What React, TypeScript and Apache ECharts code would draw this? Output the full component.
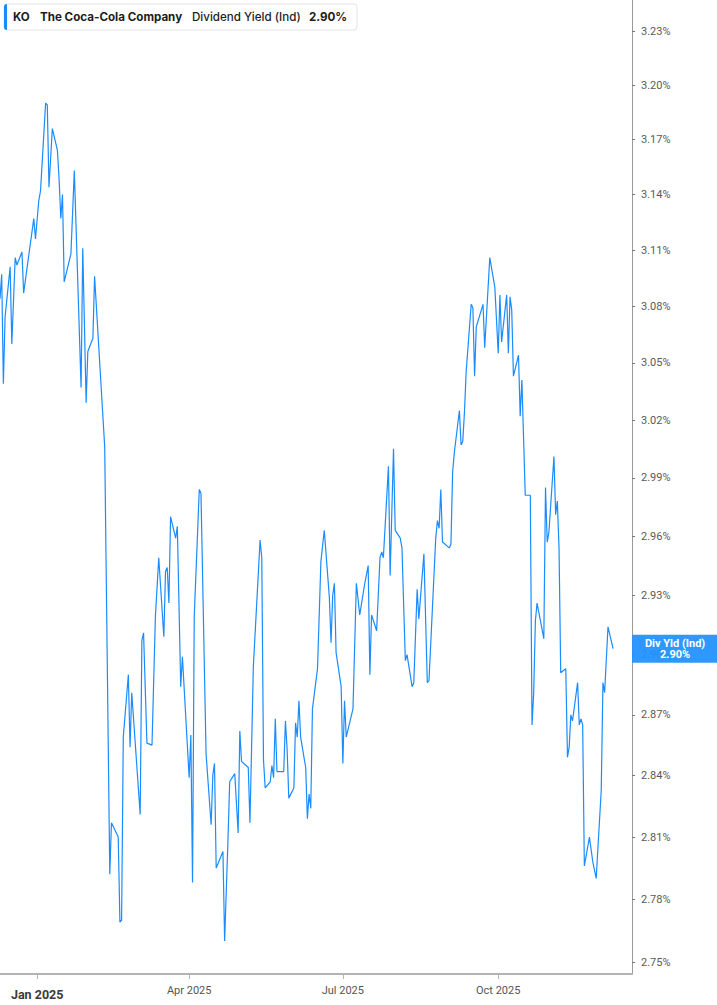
import React, { useEffect, useRef } from "react";
import * as echarts from "echarts";

// KO indicated dividend yield (%), daily closes
const dates = [
  "2024-12-10", "2024-12-11", "2024-12-12", "2024-12-13", "2024-12-16", "2024-12-17", "2024-12-19", "2024-12-20",
  "2024-12-23", "2024-12-24", "2024-12-30", "2024-12-31", "2025-01-02", "2025-01-03", "2025-01-06", "2025-01-07",
  "2025-01-08", "2025-01-10", "2025-01-13", "2025-01-14", "2025-01-15", "2025-01-16", "2025-01-17", "2025-01-21",
  "2025-01-23", "2025-01-27", "2025-01-28", "2025-01-30", "2025-01-31", "2025-02-03", "2025-02-04", "2025-02-10",
  "2025-02-13", "2025-02-14", "2025-02-18", "2025-02-19", "2025-02-20", "2025-02-21", "2025-02-24", "2025-02-25",
  "2025-02-26", "2025-03-03", "2025-03-04", "2025-03-05", "2025-03-07", "2025-03-10", "2025-03-12", "2025-03-14",
  "2025-03-17", "2025-03-18", "2025-03-19", "2025-03-20", "2025-03-21", "2025-03-24", "2025-03-25", "2025-03-27",
  "2025-03-28", "2025-04-01", "2025-04-02", "2025-04-03", "2025-04-04", "2025-04-07", "2025-04-08", "2025-04-11",
  "2025-04-14", "2025-04-15", "2025-04-16", "2025-04-17", "2025-04-21", "2025-04-22", "2025-04-24", "2025-04-25",
  "2025-04-28", "2025-04-30", "2025-05-01", "2025-05-02", "2025-05-06", "2025-05-07", "2025-05-09", "2025-05-13",
  "2025-05-14", "2025-05-15", "2025-05-16", "2025-05-19", "2025-05-20", "2025-05-21", "2025-05-22", "2025-05-23",
  "2025-05-27", "2025-05-28", "2025-05-29", "2025-05-30", "2025-06-02", "2025-06-03", "2025-06-04", "2025-06-05",
  "2025-06-06", "2025-06-09", "2025-06-10", "2025-06-11", "2025-06-12", "2025-06-13", "2025-06-16", "2025-06-18",
  "2025-06-20", "2025-06-23", "2025-06-24", "2025-06-25", "2025-06-26", "2025-06-27", "2025-06-30", "2025-07-01",
  "2025-07-02", "2025-07-03", "2025-07-07", "2025-07-09", "2025-07-11", "2025-07-14", "2025-07-16", "2025-07-17",
  "2025-07-18", "2025-07-21", "2025-07-23", "2025-07-24", "2025-07-25", "2025-07-28", "2025-07-29", "2025-07-31",
  "2025-08-01", "2025-08-04", "2025-08-05", "2025-08-07", "2025-08-08", "2025-08-11", "2025-08-12", "2025-08-14",
  "2025-08-15", "2025-08-18", "2025-08-20", "2025-08-21", "2025-08-25", "2025-08-26", "2025-08-27", "2025-08-28",
  "2025-08-29", "2025-09-02", "2025-09-03", "2025-09-04", "2025-09-05", "2025-09-08", "2025-09-09", "2025-09-10",
  "2025-09-11", "2025-09-12", "2025-09-15", "2025-09-16", "2025-09-17", "2025-09-18", "2025-09-19", "2025-09-22",
  "2025-09-23", "2025-09-26", "2025-09-29", "2025-10-01", "2025-10-02", "2025-10-03", "2025-10-06", "2025-10-07",
  "2025-10-08", "2025-10-09", "2025-10-10", "2025-10-13", "2025-10-14", "2025-10-15", "2025-10-17", "2025-10-20",
  "2025-10-21", "2025-10-22", "2025-10-23", "2025-10-24", "2025-10-28", "2025-10-29", "2025-10-30", "2025-10-31",
  "2025-11-03", "2025-11-04", "2025-11-05", "2025-11-06", "2025-11-07", "2025-11-10", "2025-11-11", "2025-11-12",
  "2025-11-13", "2025-11-14", "2025-11-17", "2025-11-18", "2025-11-19", "2025-11-20", "2025-11-21", "2025-11-24",
  "2025-11-26", "2025-11-28", "2025-12-01", "2025-12-02", "2025-12-03", "2025-12-05", "2025-12-08",
];

const yields = [
  3.084, 3.097, 3.039, 3.074, 3.101, 3.060, 3.106, 3.102,
  3.109, 3.087, 3.127, 3.116, 3.137, 3.142, 3.190, 3.189,
  3.144, 3.176, 3.164, 3.148, 3.127, 3.140, 3.093, 3.108,
  3.153, 3.037, 3.111, 3.029, 3.056, 3.063, 3.096, 3.006,
  2.792, 2.817, 2.810, 2.769, 2.770, 2.859, 2.890, 2.854,
  2.881, 2.821, 2.907, 2.911, 2.856, 2.855, 2.919, 2.949,
  2.909, 2.942, 2.944, 2.926, 2.970, 2.959, 2.965, 2.884,
  2.899, 2.839, 2.860, 2.788, 2.919, 2.984, 2.982, 2.851,
  2.816, 2.840, 2.846, 2.795, 2.803, 2.760, 2.809, 2.837,
  2.841, 2.812, 2.862, 2.847, 2.844, 2.817, 2.894, 2.958,
  2.949, 2.848, 2.834, 2.837, 2.845, 2.839, 2.868, 2.842,
  2.842, 2.867, 2.853, 2.829, 2.834, 2.866, 2.859, 2.877,
  2.859, 2.844, 2.819, 2.831, 2.824, 2.873, 2.893, 2.947,
  2.963, 2.929, 2.906, 2.930, 2.936, 2.901, 2.884, 2.846,
  2.877, 2.859, 2.873, 2.936, 2.920, 2.936, 2.945, 2.890,
  2.920, 2.912, 2.949, 2.952, 2.949, 2.996, 2.940, 3.005,
  2.963, 2.959, 2.954, 2.897, 2.900, 2.884, 2.886, 2.933,
  2.918, 2.951, 2.886, 2.887, 2.959, 2.968, 2.964, 2.984,
  2.957, 2.954, 2.956, 2.993, 3.003, 3.025, 3.007, 3.009,
  3.024, 3.045, 3.081, 3.079, 3.043, 3.069, 3.072, 3.081,
  3.058, 3.106, 3.090, 3.055, 3.086, 3.061, 3.086, 3.055,
  3.085, 3.078, 3.043, 3.054, 3.022, 3.041, 2.981, 2.981,
  2.865, 2.881, 2.917, 2.926, 2.908, 2.985, 2.957, 2.962,
  3.001, 2.971, 2.978, 2.954, 2.891, 2.893, 2.849, 2.854,
  2.870, 2.867, 2.886, 2.865, 2.868, 2.865, 2.796, 2.810,
  2.798, 2.790, 2.833, 2.886, 2.881, 2.914, 2.903,
];

const yTicks = [2.75, 2.78, 2.81, 2.84, 2.87, 2.9, 2.93, 2.96, 2.99, 3.02, 3.05, 3.08, 3.11, 3.14, 3.17, 3.2, 3.23];
const xTickDates = ["2025-01-01", "2025-04-01", "2025-07-01", "2025-10-01"];
const xTickLabels = ["Jan 2025", "Apr 2025", "Jul 2025", "Oct 2025"];

const ticker = "KO";
const company = "The Coca-Cola Company";
const metric = "Dividend Yield (Ind)";
const tagName = "Div Yld (Ind)";

const LINE_BLUE = "#1a8cff";
const AXIS_FONT = "Roboto, 'Noto Sans', sans-serif";
const HEAD_FONT = "Inter, 'Noto Sans', sans-serif";

const App = () => {
  const chartRef = useRef<HTMLDivElement | null>(null);

  useEffect(() => {
    document.body.style.margin = "0";
    if (!chartRef.current) return;
    const chart = echarts.init(chartRef.current, null, { renderer: "svg" });

    // the price scale is logarithmic, so plot ln(yield) and label back in %
    const seriesData = dates.map((d, i) => [Date.parse(d), Math.log(yields[i])]);
    const last = seriesData[seriesData.length - 1];
    const lastYield = yields[yields.length - 1];
    const xTicks = xTickDates.map((d) => Date.parse(d));

    const headText = (text: string, x: number, weight: string) => ({
      type: "text",
      x,
      y: 17,
      style: {
        text,
        font: `${weight} 11.6px ${HEAD_FONT}`,
        fill: "#1d1d1d",
        verticalAlign: "middle",
        textVerticalAlign: "middle",
      },
    });

    const option = {
      animation: false,
      backgroundColor: "#ffffff",
      grid: { left: 0, right: 85, top: 0, bottom: 31, containLabel: false },
      xAxis: {
        type: "value",
        min: Date.UTC(2024, 11, 10),
        max: Date.UTC(2025, 11, 19, 5),
        axisLine: { show: true, lineStyle: { color: "#b3b3b3", width: 2 } },
        axisTick: { show: true, customValues: xTicks, length: 5, lineStyle: { color: "#b3b3b3", width: 1 } },
        axisLabel: {
          customValues: xTicks,
          margin: 11,
          color: "#555",
          fontSize: 11,
          fontFamily: AXIS_FONT,
          formatter: (v: number) => {
            const idx = xTicks.indexOf(v);
            if (idx < 0) return "";
            return idx === 0 ? `{b|${xTickLabels[idx]}}` : xTickLabels[idx];
          },
          rich: {
            b: { fontWeight: "bold", color: "#3a3a3a", fontSize: 12.5, fontFamily: AXIS_FONT, padding: [3, 0, 0, 0] },
          },
        },
        splitLine: { show: false },
      },
      yAxis: {
        type: "value",
        position: "right",
        min: Math.log(3.23) - 943 / 5787,
        max: Math.log(3.23) + 31 / 5787,
        axisLine: { show: true, lineStyle: { color: "#9a9a9a", width: 1 } },
        axisTick: { show: true, customValues: yTicks.map(Math.log), length: 3, lineStyle: { color: "#777" } },
        axisLabel: {
          customValues: yTicks.map(Math.log),
          margin: 9,
          color: "#5a5a5a",
          fontSize: 11,
          fontFamily: AXIS_FONT,
          formatter: (v: number) => `${Math.exp(v).toFixed(2)}%`,
        },
        splitLine: { show: false },
      },
      series: [
        {
          type: "line",
          data: seriesData,
          showSymbol: false,
          lineStyle: { color: LINE_BLUE, width: 1.2 },
          itemStyle: { color: LINE_BLUE },
          markPoint: {
            symbol: "rect",
            symbolSize: [86, 28],
            symbolOffset: [62, 0],
            silent: true,
            data: [
              {
                coord: last,
                itemStyle: { color: "rgba(30,144,255,0.93)" },
                label: {
                  show: true,
                  position: "inside",
                  formatter: `${tagName}\n${lastYield.toFixed(2)}%`,
                  color: "#ffffff",
                  fontWeight: "bold",
                  fontSize: 11,
                  lineHeight: 11,
                  fontFamily: AXIS_FONT,
                },
              },
            ],
          },
        },
      ],
      graphic: [
        {
          type: "rect",
          shape: { x: 4, y: 4, width: 353, height: 26, r: 3 },
          style: { fill: "#ffffff", stroke: "#e4e4e4", lineWidth: 1 },
        },
        {
          type: "rect",
          shape: { x: 4, y: 4, width: 3, height: 26, r: [3, 0, 0, 3] },
          style: { fill: "#1e88ff" },
        },
        headText(ticker, 13, "bold"),
        headText(company, 40, "bold"),
        headText(metric, 192, "500"),
        headText(`${lastYield.toFixed(2)}%`, 309, "bold"),
      ],
    };

    chart.setOption(option);
    return () => chart.dispose();
  }, []);

  return <div ref={chartRef} style={{ width: "717px", height: "1005px" }} />;
};

export default App;
